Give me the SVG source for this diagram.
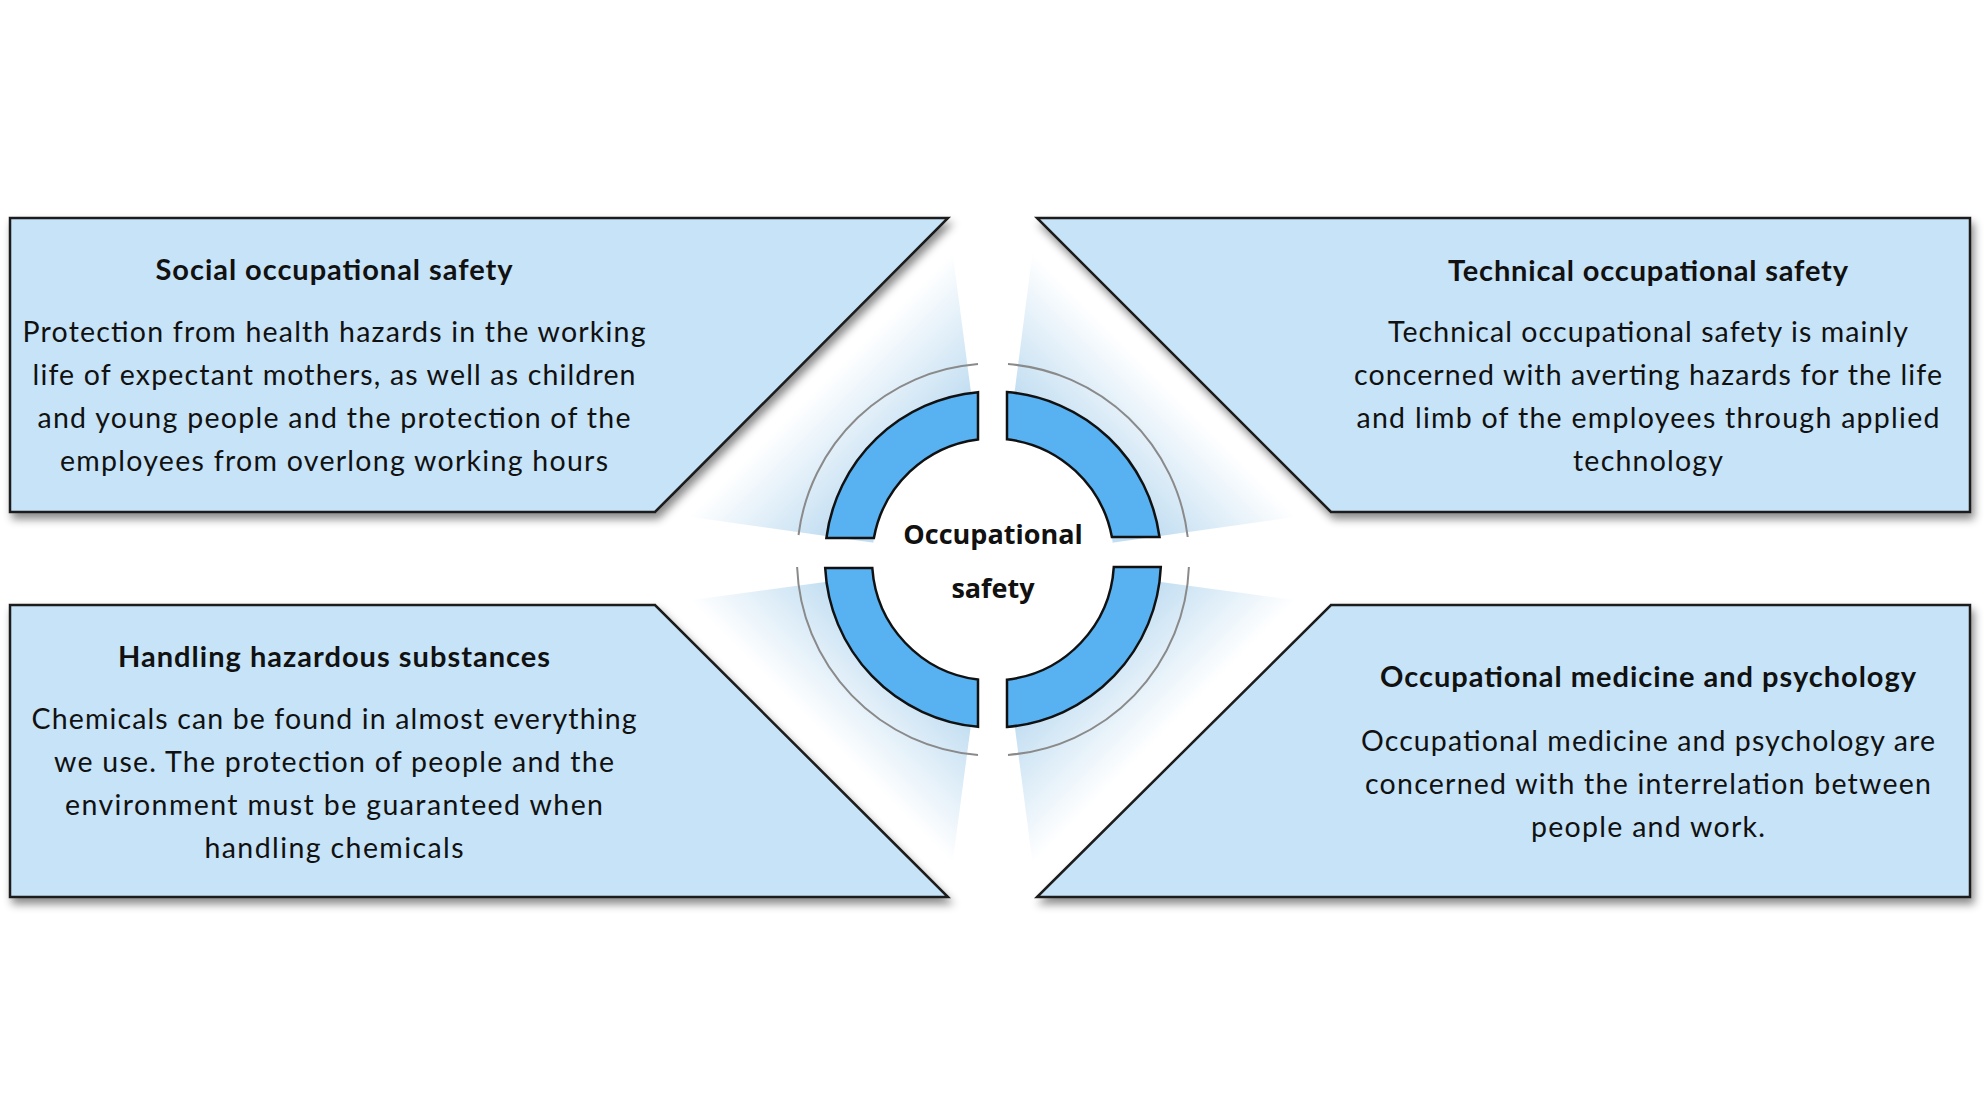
<svg xmlns="http://www.w3.org/2000/svg" width="1984" height="1116" viewBox="0 0 1984 1116">
  <style>
    .box { fill: #c6e3f7; stroke: #1a1a1a; stroke-width: 2.5; stroke-linejoin: miter; filter: url(#shadow); }
    .seg { fill: #58b1f0; stroke: #111; stroke-width: 2.5; stroke-linejoin: miter; }
    .ring { fill: none; stroke: #8a8a8a; stroke-width: 2; }
    .title { font-family: Lato, "Liberation Sans", sans-serif; font-weight: bold; font-size: 29px; fill: #111; text-anchor: middle; }
    .body { font-family: Lato, "Liberation Sans", sans-serif; font-size: 28.5px; fill: #111; text-anchor: middle; }
    .center { font-family: "Open Sans", "Liberation Sans", sans-serif; font-weight: bold; font-size: 27px; fill: #111; text-anchor: middle; }
  </style>
  <defs>
    <filter id="shadow" x="-5%" y="-10%" width="115%" height="130%">
      <feDropShadow dx="3" dy="6" stdDeviation="4" flood-color="#000" flood-opacity="0.45"/>
    </filter>
    <linearGradient id="gTL" gradientUnits="userSpaceOnUse" x1="801" y1="365" x2="994.5" y2="558.5">
      <stop offset="0" stop-color="#ffffff"/>
      <stop offset="0.1" stop-color="#ffffff"/>
      <stop offset="0.5" stop-color="#c4dff2"/>
      <stop offset="1" stop-color="#bcdaf0"/>
    </linearGradient>
    <linearGradient id="gTR" gradientUnits="userSpaceOnUse" x1="1184" y1="365" x2="991.25" y2="557.75">
      <stop offset="0" stop-color="#ffffff"/>
      <stop offset="0.1" stop-color="#ffffff"/>
      <stop offset="0.5" stop-color="#c4dff2"/>
      <stop offset="1" stop-color="#bcdaf0"/>
    </linearGradient>
    <linearGradient id="gBL" gradientUnits="userSpaceOnUse" x1="801.5" y1="751" x2="993.25" y2="559.25">
      <stop offset="0" stop-color="#ffffff"/>
      <stop offset="0.1" stop-color="#ffffff"/>
      <stop offset="0.5" stop-color="#c4dff2"/>
      <stop offset="1" stop-color="#bcdaf0"/>
    </linearGradient>
    <linearGradient id="gBR" gradientUnits="userSpaceOnUse" x1="1184" y1="751" x2="993" y2="560">
      <stop offset="0" stop-color="#ffffff"/>
      <stop offset="0.1" stop-color="#ffffff"/>
      <stop offset="0.5" stop-color="#c4dff2"/>
      <stop offset="1" stop-color="#bcdaf0"/>
    </linearGradient>
  </defs>
  <rect x="0" y="0" width="1984" height="1116" fill="#ffffff"/>

  <g id="connectors">
    <polygon fill="url(#gTL)" points="948,218 655,512 993,559.5"/>
    <polygon fill="url(#gTR)" points="1037,218 1331,512 993,559.5"/>
    <polygon fill="url(#gBL)" points="655,605 948,897 993,559.5"/>
    <polygon fill="url(#gBR)" points="1331,605 1037,897 993,559.5"/>
  </g>

  <g id="node-social">
    <polygon class="box" points="10,218 948,218 655,512 10,512"/>
    <text class="title" x="334" y="280" textLength="357">Social occupational safety</text>
    <text class="body" x="334" y="342" textLength="623">Protection from health hazards in the working</text>
    <text class="body" x="334" y="385" textLength="603">life of expectant mothers, as well as children</text>
    <text class="body" x="334" y="428" textLength="593">and young people and the protection of the</text>
    <text class="body" x="334" y="471" textLength="548">employees from overlong working hours</text>
  </g>

  <g id="node-technical">
    <polygon class="box" points="1037,218 1970,218 1970,512 1331,512"/>
    <text class="title" x="1648" y="281" textLength="400">Technical occupational safety</text>
    <text class="body" x="1648" y="342" textLength="520">Technical occupational safety is mainly</text>
    <text class="body" x="1648" y="385" textLength="588">concerned with averting hazards for the life</text>
    <text class="body" x="1648" y="428" textLength="583">and limb of the employees through applied</text>
    <text class="body" x="1648" y="471" textLength="150">technology</text>
  </g>

  <g id="node-hazardous">
    <polygon class="box" points="10,605 655,605 948,897 10,897"/>
    <text class="title" x="334" y="667" textLength="432">Handling hazardous substances</text>
    <text class="body" x="334" y="729" textLength="605">Chemicals can be found in almost everything</text>
    <text class="body" x="334" y="772" textLength="560">we use. The protection of people and the</text>
    <text class="body" x="334" y="815" textLength="538">environment must be guaranteed when</text>
    <text class="body" x="334" y="858" textLength="259">handling chemicals</text>
  </g>

  <g id="node-medicine">
    <polygon class="box" points="1331,605 1970,605 1970,897 1037,897"/>
    <text class="title" x="1648" y="687" textLength="536">Occupational medicine and psychology</text>
    <text class="body" x="1648" y="751" textLength="574">Occupational medicine and psychology are</text>
    <text class="body" x="1648" y="794" textLength="566">concerned with the interrelation between</text>
    <text class="body" x="1648" y="837" textLength="234">people and work.</text>
  </g>

  <g id="node-center">
    <circle cx="993" cy="559.5" r="121" fill="#ffffff"/>
    <path class="ring" d="M798.5,535 A196,196 0 0 1 978,364.1"/>
    <path class="ring" d="M1008,364.1 A196,196 0 0 1 1187.7,537"/>
    <path class="ring" d="M797.1,567 A196,196 0 0 0 978,754.9"/>
    <path class="ring" d="M1008,754.9 A196,196 0 0 0 1188.9,567"/>
    <path class="seg" d="M826.4,538 A168,168 0 0 1 978,392.2 L978,439.4 A121,121 0 0 0 873.9,538 Z"/>
    <path class="seg" d="M1007,392.1 A168,168 0 0 1 1159.5,537 L1111.9,537 A121,121 0 0 0 1007,439.3 Z"/>
    <path class="seg" d="M825.2,568 L872.3,568 A121,121 0 0 0 978,679.6 L978,726.8 A168,168 0 0 1 825.2,568 Z"/>
    <path class="seg" d="M1007,679.7 A121,121 0 0 0 1113.8,567 L1160.8,567 A168,168 0 0 1 1007,726.9 Z"/>
    <text class="center" x="993" y="544">Occupational</text>
    <text class="center" x="993" y="598">safety</text>
  </g>
</svg>
